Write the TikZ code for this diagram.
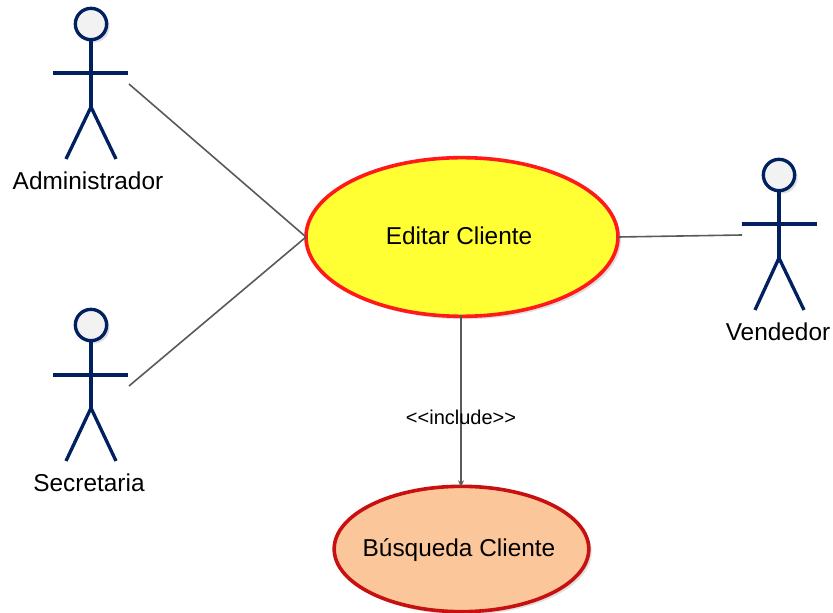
\documentclass[tikz,border=0pt]{standalone}
\usepackage{fontspec}
\setmainfont{Liberation Sans}
\usetikzlibrary{shapes.geometric,shadows,arrows.meta}
\definecolor{actorblue}{RGB}{0,32,96}
\definecolor{linegray}{RGB}{89,89,89}
\definecolor{usecaseyellow}{RGB}{255,255,51}
\definecolor{usecaseorange}{RGB}{251,199,154}
\definecolor{usecasered}{RGB}{200,16,16}
\definecolor{brightred}{RGB}{255,25,25}
\tikzset{
  softshadow/.style={copy shadow={shadow xshift=2.2pt,shadow yshift=-2.2pt,draw=none,fill=black!12}},
  usecase/.style={ellipse,draw,line width=2.7pt,inner sep=0pt,outer sep=0pt,softshadow},
  head/.style={circle,draw=actorblue,fill=black!5,line width=2.5pt,minimum size=23.5pt,inner sep=0pt,outer sep=0pt,softshadow},
  limb/.style={draw=actorblue,line width=2.5pt},
  actorname/.style={inner sep=0pt,font=\fontsize{18.3}{20}\selectfont},
  link/.style={draw=linegray,line width=1.2pt}
}
\begin{document}
\begin{tikzpicture}[x=0.75pt,y=-0.75pt]
\useasboundingbox (0,0) rectangle (833,613);
% use cases
\node [usecase,fill=usecaseyellow,draw=brightred,minimum width=234pt,minimum height=119pt] (editar) at (462,237) {};
\node at (459,236) [actorname] (editartext) {Editar Cliente};
\node [usecase,fill=usecaseorange,draw=usecasered,minimum width=191pt,minimum height=94pt] (busqueda) at (461.5,549) {};
\node at (459,550) [actorname] (busquedatext) {Búsqueda Cliente};
% Administrador
\node [head] (headA) at (91,24) {};
\coordinate (hipA) at (91,107);
\coordinate (armLA) at (53,73);
\coordinate (armRA) at (128,73);
\coordinate (footLA) at (66,159);
\coordinate (footRA) at (116,159);
\coordinate (linkA) at (129,84);
\draw [limb] (headA) -- (hipA);
\draw [limb] (armLA) -- (armRA);
\draw [limb] (footLA) -- (hipA) -- (footRA);
\node at (88,181) [actorname] (nameA) {Administrador};
% Secretaria
\node [head] (headS) at (91,325) {};
\coordinate (hipS) at (91,408);
\coordinate (armLS) at (53,375);
\coordinate (armRS) at (128,375);
\coordinate (footLS) at (66,461);
\coordinate (footRS) at (116,461);
\coordinate (linkS) at (129,386);
\draw [limb] (headS) -- (hipS);
\draw [limb] (armLS) -- (armRS);
\draw [limb] (footLS) -- (hipS) -- (footRS);
\node at (89,483) [actorname] (nameS) {Secretaria};
% Vendedor
\node [head] (headV) at (779,175) {};
\coordinate (hipV) at (779,258);
\coordinate (armLV) at (742,224);
\coordinate (armRV) at (817,224);
\coordinate (footLV) at (755,310);
\coordinate (footRV) at (804,310);
\coordinate (linkV) at (742,235);
\draw [limb] (headV) -- (hipV);
\draw [limb] (armLV) -- (armRV);
\draw [limb] (footLV) -- (hipV) -- (footRV);
\node at (778,332) [actorname] (nameV) {Vendedor};
% connectors
\coordinate (includeTop) at (461,315);
\coordinate (includeEnd) at (461,487);
\draw [link] (linkA) -- (editar.west);
\draw [link] (linkS) -- (editar.west);
\draw [link] (linkV) -- (editar.east);
\draw [link,-{Stealth[length=5pt,width=4.5pt]}] (includeTop) -- (includeEnd);
\node at (461,417) [inner sep=0pt,font=\fontsize{15}{17}\selectfont] (include) {<{}<include>{}>};
\end{tikzpicture}
\end{document}
